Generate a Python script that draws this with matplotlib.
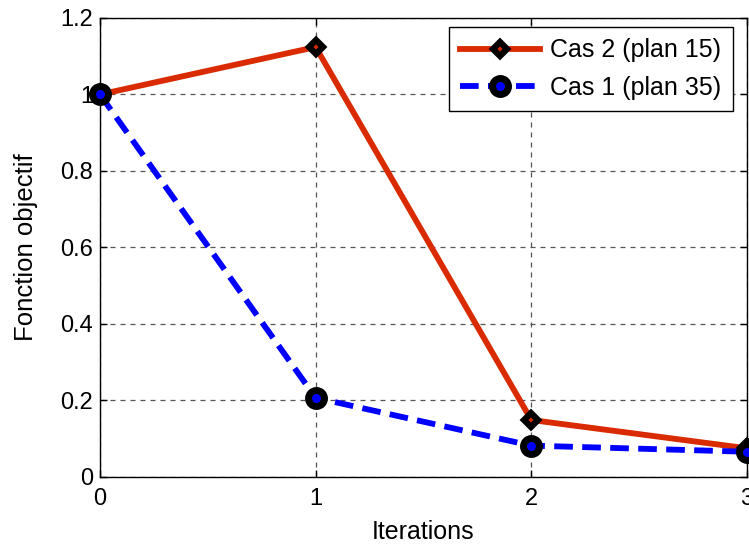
import matplotlib
matplotlib.use("Agg")
import matplotlib.pyplot as plt

plt.rcParams['font.family'] = ['Liberation Sans', 'DejaVu Sans']

iterations = [0, 1, 2, 3]
cas2 = [1.0, 1.124, 0.149, 0.075]
cas1 = [1.0, 0.207, 0.082, 0.066]
xticks = [0, 1, 2, 3]
yticks = [0, 0.2, 0.4, 0.6, 0.8, 1.0, 1.2]
yticklabels = ['0', '0.2', '0.4', '0.6', '0.8', '1', '1.2']

fig = plt.figure(figsize=(7.49, 5.45), dpi=100)
ax = fig.add_axes([0.1335, 0.1248, 0.8638, 0.8422])

ax.plot(iterations, cas2, color='#DA2A00', linewidth=4.2, marker='D', markersize=7.5,
        markerfacecolor='#DA2A00', markeredgecolor='black', markeredgewidth=4.5,
        label='Cas 2 (plan 15)', clip_on=False, zorder=3)
ax.plot(iterations, cas1, color='#0000FF', linewidth=4.2, linestyle=(0, (3.2, 1.6)), marker='o',
        markersize=11.5, markerfacecolor='#0000FF', markeredgecolor='black', markeredgewidth=5,
        label='Cas 1 (plan 35)', clip_on=False, zorder=4)

ax.set_xlim(0, 3)
ax.set_ylim(0, 1.2)
ax.set_xticks(xticks)
ax.set_xticklabels([str(v) for v in xticks])
ax.set_yticks(yticks)
ax.set_yticklabels(yticklabels)
ax.tick_params(direction='in', length=5, width=1, top=True, right=True, labelsize=17)
ax.tick_params(axis='x', pad=8)
ax.tick_params(axis='y', pad=5)
ax.grid(True, color='#555555', linestyle=(0, (4, 4)), linewidth=0.9)
for s in ax.spines.values():
    s.set_linewidth(1)

ax.set_xlabel('Iterations', fontsize=18, labelpad=7)
ax.set_ylabel('Fonction objectif', fontsize=18.5, labelpad=16)

leg = ax.legend(loc='upper right', fontsize=18, handlelength=3.2, frameon=True, fancybox=False,
                edgecolor='black', framealpha=1, bbox_to_anchor=(0.978, 0.980),
                borderaxespad=0, labelspacing=0.55, handletextpad=0.4, borderpad=0.45)
leg.get_frame().set_linewidth(1)

fig.savefig('out.png', dpi=100)
